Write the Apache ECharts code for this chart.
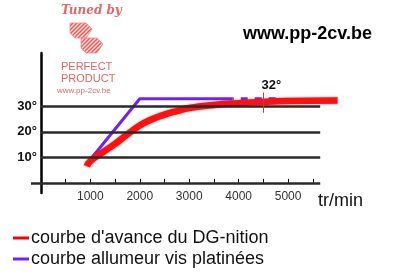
<!DOCTYPE html>
<html><head><meta charset="utf-8">
<script src="https://cdn.jsdelivr.net/npm/echarts@6/dist/echarts.min.js"></script>
<style>html,body{margin:0;padding:0;background:#fff}#c{width:400px;height:280px}</style>
</head><body><div id="c"></div>
<script>
// data
const redRpm = [930, 1000, 1250, 1500, 1750, 2000, 2250, 2500, 2750, 3000, 3500, 4000, 4500, 5000, 6000];
const redDeg = [6.5, 8.5, 12, 15.3, 19, 22.5, 25, 26.8, 28.2, 29.4, 30.6, 31.3, 31.8, 32.1, 32.3];
const purpleRpm = [930, 2000, 3880];
const purpleDeg = [7.5, 33, 33];
const purpleDashRpm = [3880, 4750];
const purpleDashDeg = [33, 33];
const gridLevels = [10, 20, 30];
const xTickValues = [500, 1000, 1500, 2000, 2500, 3000, 3500, 4000, 4500, 5000, 5500];
const xLabelValues = [1000, 2000, 3000, 4000, 5000];
const yLabelValues = [10, 20, 30];
const markerRpm = 4500, markerDeg = 32;
const seriesNames = ["courbe d'avance du DG-nition", "courbe allumeur vis platinées"];

const zip = (a, b) => a.map((v, i) => [v, b[i]]);
const chart = echarts.init(document.getElementById('c'), null, {renderer: 'canvas'});
const FONT = 'Liberation Sans, Arial, sans-serif';
const logoRed = '#e06868';

// striped fill for the logo
const pc = document.createElement('canvas');
pc.width = 4; pc.height = 4;
const pctx = pc.getContext('2d');
pctx.fillStyle = '#fbe0e0'; pctx.fillRect(0, 0, 4, 4);
pctx.strokeStyle = '#e85a5a'; pctx.lineWidth = 1.4;
pctx.beginPath(); pctx.moveTo(0, 4); pctx.lineTo(4, 0); pctx.moveTo(-1, 1); pctx.lineTo(1, -1); pctx.moveTo(3, 5); pctx.lineTo(5, 3); pctx.stroke();
const stripe = {image: pc, repeat: 'repeat'};

chart.setOption({
  animation: false,
  backgroundColor: '#fff',
  grid: {left: 31, right: 60, top: 53, bottom: 87},
  xAxis: {
    type: 'value', min: -200, max: 6050, offset: -10.2,
    splitLine: {show: false},
    axisLine: {show: true, onZero: false, lineStyle: {color: 'rgba(0,0,0,0)', width: 1}},
    axisTick: {show: true, inside: true, length: 4, customValues: xTickValues, lineStyle: {color: '#111', width: 1}},
    axisLabel: {customValues: xLabelValues, formatter: v => String(v), margin: 8, fontSize: 12, color: '#333', fontFamily: FONT}
  },
  yAxis: {
    type: 'value', min: -4, max: 51, offset: -9.9,
    splitLine: {show: false},
    axisLine: {show: true, onZero: false, lineStyle: {color: '#000', width: 2.5}},
    axisTick: {show: false},
    axisLabel: {customValues: yLabelValues, formatter: '{value}°', margin: 4, fontSize: 13, fontWeight: 'bold', color: '#111', fontFamily: FONT}
  },
  legend: {
    orient: 'vertical', left: 8, top: 224, itemWidth: 16, itemHeight: 3, itemGap: 3, icon: 'rect',
    data: seriesNames,
    textStyle: {fontSize: 18, color: '#111', fontFamily: FONT, padding: [0, 0, 0, -3]}
  },
  series: [
    {
      type: 'line', silent: true, data: [], symbol: 'none',
      markLine: {
        silent: true, symbol: 'none', label: {show: false},
        data: gridLevels.map(v => [{coord: [0, v]}, {coord: [5650, v]}]).concat([[{coord: [-200, 0]}, {coord: [5650, 0]}]]),
        lineStyle: {color: '#2a2a2a', width: 2.5, type: 'solid'}
      }
    },
    {
      name: seriesNames[1], type: 'line', data: zip(purpleRpm, purpleDeg), symbol: 'none',
      lineStyle: {color: '#7020ff', width: 3}, itemStyle: {color: '#7020ff'}, z: 3
    },
    {
      name: 'dash', type: 'line', data: zip(purpleDashRpm, purpleDashDeg), symbol: 'none',
      lineStyle: {color: '#7020ff', width: 3, type: [7, 7], dashOffset: -8}, z: 3
    },
    {
      name: seriesNames[0], type: 'line', data: zip(redRpm, redDeg), symbol: 'none', smooth: true,
      lineStyle: {color: '#ff1010', width: 6.5, shadowBlur: 2, shadowColor: 'rgba(255,0,0,0.6)'}, itemStyle: {color: '#ff0000'}, z: 4,
      markLine: {
        silent: true, symbol: 'none', label: {show: false},
        data: [[{coord: [markerRpm, markerDeg - 4.5]}, {coord: [markerRpm, markerDeg + 3.5]}]],
        lineStyle: {color: '#e03030', width: 1, type: 'solid'}
      },
      markPoint: {
        silent: true, symbol: 'circle', symbolSize: 0,
        data: [{coord: [markerRpm, markerDeg], value: markerDeg}],
        label: {show: true, formatter: '{c}°', offset: [8, -16], fontSize: 13, fontWeight: 'bold', color: '#111', fontFamily: FONT}
      }
    }
  ],
  graphic: [
    {type: 'text', left: 318, top: 192, style: {text: 'tr/min', fontSize: 18, fill: '#111', fontFamily: FONT}},
    {type: 'text', left: 243, top: 25, style: {text: 'www.pp-2cv.be', fontSize: 18, fontWeight: 'bold', fill: '#000', fontFamily: FONT}},
    {type: 'text', left: 61, top: 5, style: {text: 'Tuned by', fontSize: 12, fontStyle: 'italic', fontWeight: 'bold', fill: logoRed, fontFamily: 'DejaVu Serif, serif'}},
    {type: 'polygon', shape: {points: [[70, 23], [86, 23], [92, 29], [86, 38], [75, 38], [70, 33]]}, style: {fill: stripe, stroke: '#ee8888', lineWidth: 0.8}},
    {type: 'polygon', shape: {points: [[81, 38], [97, 38], [103, 44], [97, 53], [86, 53], [81, 48]]}, style: {fill: stripe, stroke: '#ee8888', lineWidth: 0.8}},
    {type: 'text', left: 61, top: 61, style: {text: 'PERFECT', fontSize: 11, fill: logoRed, fontFamily: FONT}},
    {type: 'text', left: 61, top: 73, style: {text: 'PRODUCT', fontSize: 11, fill: logoRed, fontFamily: FONT}},
    {type: 'text', left: 57, top: 87, style: {text: 'www.pp-2cv.be', fontSize: 8, fill: logoRed, fontFamily: FONT}}
  ]
});
</script></body></html>
